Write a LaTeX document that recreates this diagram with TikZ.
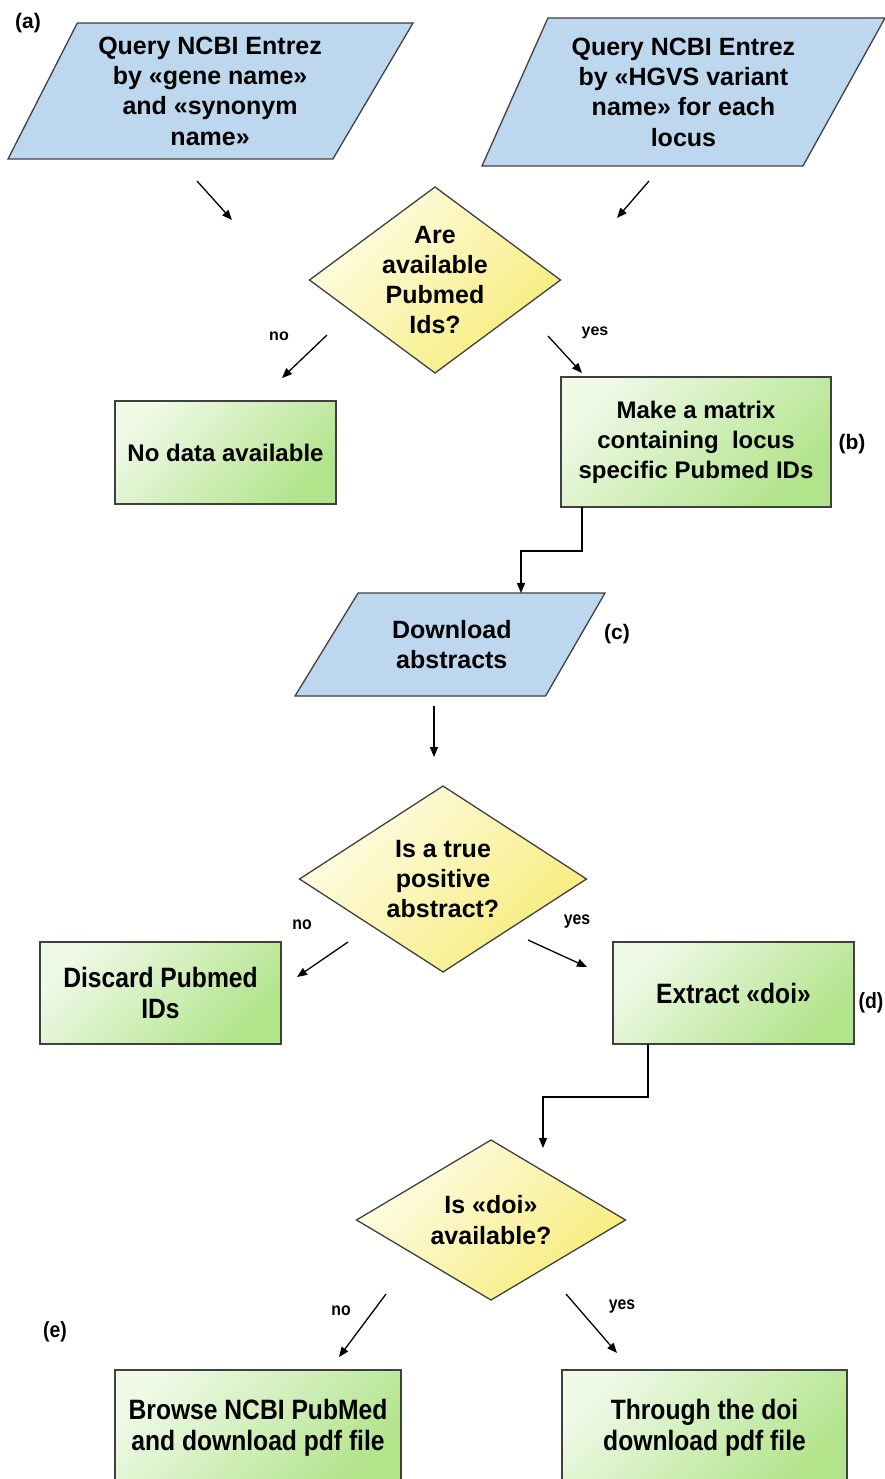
\documentclass[tikz,border=0pt]{standalone}
\usepackage{fontspec}
\setmainfont{Liberation Sans}
\newfontfamily\narrowfont[FakeStretch=0.88]{Liberation Sans}
\usetikzlibrary{shapes.geometric,arrows.meta}
\definecolor{inblue}{HTML}{BDD7EE}
\definecolor{edgegray}{HTML}{404040}
\definecolor{greenA}{HTML}{EEF9E6}
\definecolor{greenB}{HTML}{B2E48C}
\definecolor{yellowA}{HTML}{FFFDE8}
\definecolor{yellowB}{HTML}{F6EC7A}

\begin{document}
\begin{tikzpicture}[x=1pt,y=-1pt]
  \tikzset{
    inout/.style={trapezium, trapezium stretches body=true, draw=edgegray, line width=1.3pt,
      fill=inblue, inner xsep=0pt, outer sep=0pt, anchor=bottom left corner},
    decide/.style={diamond, draw=edgegray, line width=1.3pt, top color=yellowA,
      bottom color=yellowB, shading angle=45, inner sep=0pt, outer sep=0pt},
    qtext/.style={align=center, font=\bfseries\fontsize{25}{30.3}\selectfont},
    action/.style={rectangle, draw=edgegray, line width=1.3pt, top color=greenA,
      bottom color=greenB, shading angle=45, inner sep=0pt, outer sep=0pt, align=center,
      font=\bfseries\fontsize{24}{30}\selectfont},
    narrow/.style={font=\narrowfont\bfseries\fontsize{28}{31}\selectfont},
    tag/.style={font=\bfseries\fontsize{21}{21}\selectfont},
    answer/.style={font=\bfseries\fontsize{16}{16}\selectfont},
    flow/.style={draw=black, line width=1.3pt, -{Triangle[length=10pt,width=8pt]}}
  }
  \useasboundingbox (0,0) rectangle (885,1479);
  \clip (0,0) rectangle (885,1479);

  % queries
  \node[inout, minimum width=405pt, inner ysep=68pt,
    trapezium left angle=63, trapezium right angle=120.5,
    label={[qtext, xshift=5pt]center:Query NCBI Entrez\\by «gene name»\\and «synonym\\name»}]
    (qgene) at (8,159) {};
  \node[inout, minimum width=403pt, inner ysep=74pt,
    trapezium left angle=66, trapezium right angle=119,
    label={[qtext, xshift=8pt]center:Query NCBI Entrez\\by «HGVS variant\\name» for each\\locus}]
    (qhgvs) at (482,166) {};

  \node[decide, minimum width=251pt, minimum height=186pt,
    label={[qtext]center:Are\\available\\Pubmed\\Ids?}] (ids) at (435,280) {};
  \node[action, minimum width=221pt, minimum height=103pt] (nodata) at (225.5,452.5)
    {No data available};
  \node[action, minimum width=270pt, minimum height=130pt] (matrix) at (696,442)
    {Make a matrix\\containing~ locus\\specific Pubmed IDs};

  \node[inout, minimum width=310pt, inner ysep=51.5pt,
    trapezium left angle=58.5, trapezium right angle=120,
    label={[qtext]center:Download\\abstracts}] (dl) at (295,696) {};

  \node[decide, minimum width=287pt, minimum height=186pt,
    label={[qtext]center:Is a true\\positive\\abstract?}] (truepos) at (443,879) {};
  \node[action, narrow, minimum width=241pt, minimum height=102pt] (discard) at (160.5,993)
    {Discard Pubmed\\IDs};
  \node[action, narrow, minimum width=241pt, minimum height=102pt] (doi) at (733.5,993)
    {Extract «doi»};

  \node[decide, minimum width=269pt, minimum height=160pt,
    label={[qtext]center:Is «doi»\\available?}] (hasdoi) at (491,1220) {};
  \node[action, narrow, minimum width=286pt, minimum height=116pt] (browse) at (258,1428)
    {Browse NCBI PubMed\\and download pdf file};
  \node[action, narrow, minimum width=285pt, minimum height=116pt] (through) at (704.5,1428)
    {Through the doi\\download pdf file};

  % tags
  \node[tag] (ta) at (28,23) {(a)};
  \node[tag] (tb) at (852,444) {(b)};
  \node[tag] (tc) at (617,634) {(c)};
  \node[tag, narrow, font=\narrowfont\bfseries\fontsize{22}{22}\selectfont] (td) at (871,1003) {(d)};
  \node[tag, narrow, font=\narrowfont\bfseries\fontsize{22}{22}\selectfont] (te) at (55,1332) {(e)};

  \node[answer] (no1) at (279,336) {no};
  \node[answer] (yes1) at (595,333) {yes};
  \node[answer, font=\narrowfont\bfseries\fontsize{18}{18}\selectfont] (no2) at (302,925) {no};
  \node[answer, font=\narrowfont\bfseries\fontsize{18}{18}\selectfont] (yes2) at (577,922) {yes};
  \node[answer, font=\narrowfont\bfseries\fontsize{18}{18}\selectfont] (no3) at (341,1311) {no};
  \node[answer, font=\narrowfont\bfseries\fontsize{18}{18}\selectfont] (yes3) at (622,1307) {yes};

  % arrow ends
  \coordinate (ga) at (197,181);  \coordinate (gb) at (232,220);
  \coordinate (ha) at (649,181);  \coordinate (hb) at (617,218);
  \coordinate (n1a) at (327,335); \coordinate (n1b) at (282,378);
  \coordinate (y1a) at (548,336); \coordinate (y1b) at (582,373);
  \coordinate (da) at (434,706);  \coordinate (db) at (434,757);
  \coordinate (n2a) at (348,942); \coordinate (n2b) at (297,977);
  \coordinate (y2a) at (528,940); \coordinate (y2b) at (587,967);
  \coordinate (n3a) at (386,1294); \coordinate (n3b) at (339,1357);
  \coordinate (y3a) at (566,1294); \coordinate (y3b) at (617,1353);
  \coordinate (elb1) at (521,551);
  \coordinate (elb2) at (543,1097);
  \coordinate (doiin) at (543,1148);

  \foreach \s/\e in {ga/gb, ha/hb, n1a/n1b, y1a/y1b, da/db, n2a/n2b, y2a/y2b, n3a/n3b, y3a/y3b}
    \draw[flow] (\s) -- (\e);

  \draw[flow] ([xshift=21pt]matrix.south west) |- (elb1) -- (elb1 |- dl.north);
  \draw[flow] ([xshift=35pt]doi.south west) |- (elb2) -- (doiin);
\end{tikzpicture}
\end{document}
